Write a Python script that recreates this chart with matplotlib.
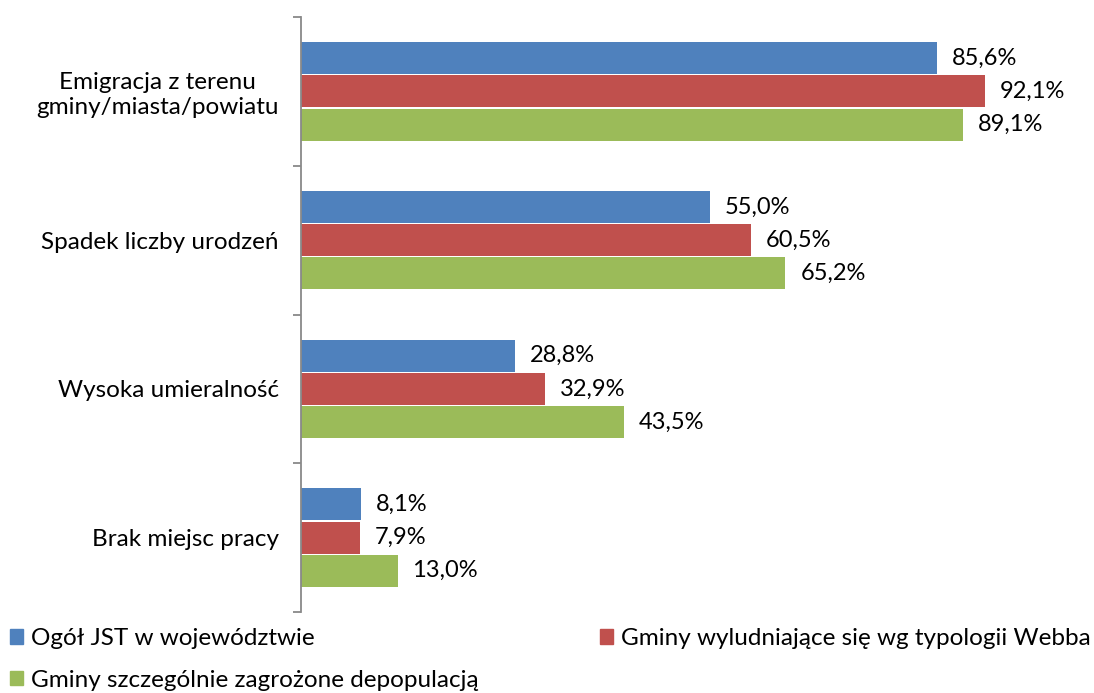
import matplotlib.pyplot as plt
from matplotlib.patches import Patch
import numpy as np

plt.rcParams['font.family'] = ['Lato', 'DejaVu Sans']

categories = ['Emigracja z terenu\ngminy/miasta/powiatu', 'Spadek liczby urodzeń',
              'Wysoka umieralność', 'Brak miejsc pracy']
series_names = ['Ogół JST w województwie',
                'Gminy wyludniające się wg typologii Webba',
                'Gminy szczególnie zagrożone depopulacją']
ogol = [85.6, 55.0, 28.8, 8.1]
webb = [92.1, 60.5, 32.9, 7.9]
zagrozone = [89.1, 65.2, 43.5, 13.0]
colors = ['#4F81BD', '#C0504D', '#9BBB59']

fig = plt.figure(figsize=(10.94, 6.93), dpi=100)
ax = fig.add_axes([301/1094, 1-612/693, 743/1094, 595/693])

y = np.arange(len(categories))
h = 0.215
offs = [-0.223, 0, 0.223]
for vals, off, c in zip([ogol, webb, zagrozone], offs, colors):
    bars = ax.barh(y + off, vals, height=h, color=c)
    for b, v in zip(bars, vals):
        ax.text(v + 2.0, b.get_y() + b.get_height()/2, ('%.1f%%' % v).replace('.', ','),
                va='center', ha='left', fontsize=17)

ax.set_xlim(0, 100)
ax.set_ylim(3.5, -0.5)
ax.set_yticks(y)
ax.set_yticklabels(categories, fontsize=17.5, multialignment='center', linespacing=1.2)
ax.set_yticks(np.arange(-0.5, 4, 1), minor=True)
ax.tick_params(axis='y', which='major', length=0, pad=16)
ax.tick_params(axis='y', which='minor', length=6, color='#898989', width=1.3)
ax.set_xticks([])
for s in ['top', 'right', 'bottom']:
    ax.spines[s].set_visible(False)
ax.spines['left'].set_color('#898989')
ax.spines['left'].set_linewidth(1.3)

# kolejnosc: kolumny wypelniane od gory
order = [0, 2, 1]
handles = [Patch(color=colors[i]) for i in order]
labels = [series_names[i] for i in order]
fig.legend(handles, labels, ncol=2, mode='expand', loc='lower left',
           bbox_to_anchor=(0.007, 0.0, 0.992, 0.11), frameon=False, fontsize=17.5,
           handlelength=0.55, handleheight=0.55, handletextpad=0.3, labelspacing=0.85,
           borderaxespad=0.0, borderpad=0.1)

fig.savefig('out.png', dpi=100)
